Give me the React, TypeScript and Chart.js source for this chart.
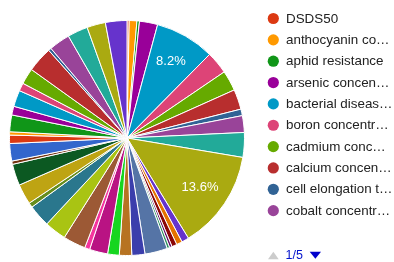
import React, { useEffect, useRef } from "react";
import { Chart, registerables } from "chart.js";

Chart.register(...registerables);

const PALETTE = [
  "#3366cc", "#dc3912", "#ff9900", "#109618", "#990099", "#0099c6", "#dd4477",
  "#66aa00", "#b82e2e", "#316395", "#994499", "#22aa99", "#aaaa11", "#6633cc",
  "#e67300", "#8b0707", "#651067", "#329262", "#5574a6", "#3b3eac", "#b77322",
  "#16d620", "#b91383", "#f4359e", "#9c5935", "#a9c413", "#2a778d", "#668d1c",
  "#bea413", "#0c5922", "#743411",
];

const categories = [
  "DSDS50", "anthocyanin content", "aphid resistance", "arsenic concentration",
  "bacterial disease resistance", "boron concentration", "cadmium concentration",
  "calcium concentration", "cell elongation trait", "cobalt concentration",
  "copper concentration", "days to flowering", "drought tolerance", "fatty acid content",
  "fiber content", "flower color", "fruit weight", "germination rate",
  "grain weight", "heading date", "height", "iron concentration",
  "leaf angle", "leaf area", "lodging resistance", "magnesium concentration",
  "manganese concentration", "molybdenum concentration", "nickel concentration",
  "nitrogen use efficiency", "oil content", "panicle length", "phosphorus concentration",
  "plant architecture", "potassium concentration", "protein content",
  "rust resistance", "salt tolerance", "seed dormancy", "seed size",
  "sodium concentration", "starch content", "sulfur concentration", "zinc concentration",
];

const values = [
  0.3, 1.05, 0.35, 2.5, 8.2, 3.1, 2.8, 2.75, 0.9, 2.3,
  3.4, 13.6, 1.0, 0.8, 0.7, 0.35, 0.35, 3.1, 1.8, 1.7,
  1.6, 2.5, 0.7, 3.1, 3.0, 3.05, 0.65, 2.8, 2.95, 0.45,
  2.4, 1.15, 0.45, 2.3, 1.2, 2.25, 1.1, 2.2, 3.5, 0.4,
  2.9, 2.8, 2.55, 2.95,
];

const legendPageSize = 10;
const legendPageLabel = "1/5";

const sliceColors = values.map((_, i) => PALETTE[(i + 1) % PALETTE.length]);

const sliceLabelPlugin = {
  id: "sliceLabels",
  afterDatasetsDraw(chart: any) {
    const ctx = chart.ctx;
    const meta = chart.getDatasetMeta(0);
    const data = chart.data.datasets[0].data as number[];
    const total = data.reduce((a, b) => a + b, 0);
    ctx.save();
    ctx.font = "13px 'Liberation Sans', Arial, sans-serif";
    ctx.fillStyle = "#ffffff";
    ctx.textAlign = "center";
    ctx.textBaseline = "middle";
    meta.data.forEach((arc: any, i: number) => {
      const frac = data[i] / total;
      if (frac < 0.05) return;
      const mid = (arc.startAngle + arc.endAngle) / 2;
      const r = arc.outerRadius * 0.75;
      const x = arc.x + Math.cos(mid) * r;
      const y = arc.y + Math.sin(mid) * r;
      ctx.fillText((frac * 100).toFixed(1) + "%", x, y);
    });
    ctx.restore();
  },
};

const legendPlugin = {
  id: "pagedLegend",
  afterDraw(chart: any) {
    const ctx = chart.ctx;
    const labels = chart.data.labels as string[];
    const colors = chart.data.datasets[0].backgroundColor as string[];
    const dotX = 273.3;
    const textX = 286;
    const maxRight = 393;
    const y0 = 18.5;
    const step = 21.35;
    ctx.save();
    ctx.font = "13.4px 'Liberation Sans', Arial, sans-serif";
    ctx.textBaseline = "middle";
    ctx.textAlign = "left";
    for (let i = 0; i < Math.min(legendPageSize, labels.length); i++) {
      const y = y0 + i * step;
      ctx.beginPath();
      ctx.arc(dotX, y, 5.6, 0, Math.PI * 2);
      ctx.fillStyle = colors[i];
      ctx.fill();
      let text = labels[i];
      const maxW = maxRight - textX;
      if (ctx.measureText(text).width > maxW) {
        while (text.length > 1 && ctx.measureText(text + "…").width > maxW) {
          text = text.slice(0, -1);
        }
        text = text + "…";
      }
      ctx.fillStyle = "#222222";
      ctx.fillText(text, textX, y + 0.5);
    }
    // pagination
    const py = 255.5;
    ctx.beginPath();
    ctx.moveTo(268, 259.3);
    ctx.lineTo(278.7, 259.3);
    ctx.lineTo(273.35, 251.7);
    ctx.closePath();
    ctx.fillStyle = "#cccccc";
    ctx.fill();
    ctx.font = "12.5px 'Liberation Sans', Arial, sans-serif";
    ctx.fillStyle = "#0011cc";
    ctx.fillText(legendPageLabel, 285.5, py + 0.5);
    ctx.beginPath();
    ctx.moveTo(309.7, 251.7);
    ctx.lineTo(321, 251.7);
    ctx.lineTo(315.35, 258.7);
    ctx.closePath();
    ctx.fillStyle = "#0000cc";
    ctx.fill();
    ctx.restore();
  },
};

export default function App() {
  const canvasRef = useRef<HTMLCanvasElement | null>(null);

  useEffect(() => {
    document.body.style.margin = "0";
    const canvas = canvasRef.current;
    if (!canvas) return;
    const chart = new Chart(canvas, {
      type: "pie",
      data: {
        labels: categories,
        datasets: [
          {
            data: values,
            backgroundColor: sliceColors,
            borderColor: "#ffffff",
            borderWidth: 1,
          },
        ],
      },
      options: {
        responsive: false,
        animation: false,
        layout: { padding: { left: 9, top: 20, right: 149, bottom: 6 } },
        plugins: {
          legend: { display: false },
          tooltip: { enabled: false },
        },
      },
      plugins: [sliceLabelPlugin, legendPlugin],
    });
    return () => chart.destroy();
  }, []);

  return (
    <div style={{ width: 394, height: 262, background: "#ffffff" }}>
      <canvas ref={canvasRef} width={394} height={262} />
    </div>
  );
}
